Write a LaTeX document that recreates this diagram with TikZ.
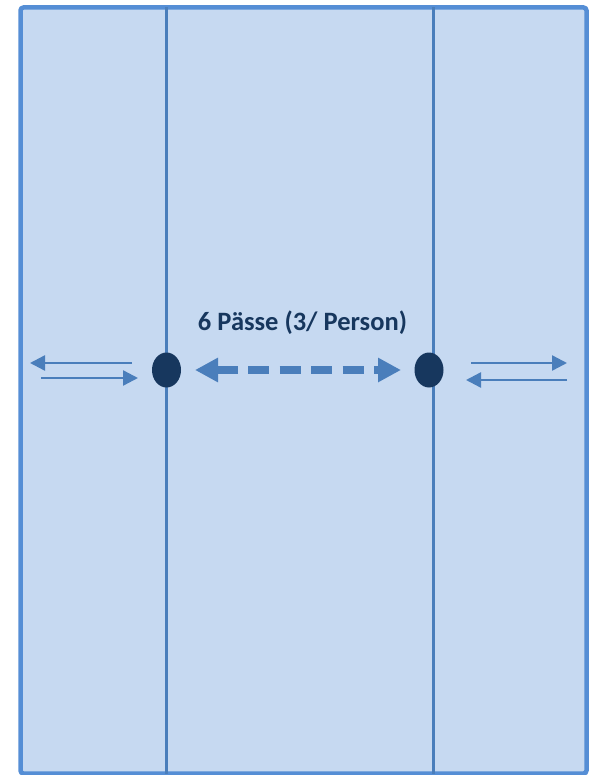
\documentclass[tikz,border=0pt]{standalone}
\usepackage{fontspec}
\setmainfont{Carlito}
\usetikzlibrary{arrows.meta,shapes.geometric}
\definecolor{fillblue}{HTML}{C6D9F1}
\definecolor{borderblue}{HTML}{558ED5}
\definecolor{lineblue}{HTML}{4A7EBB}
\definecolor{navy}{HTML}{17375E}
\tikzset{
  outerbox/.style={draw=borderblue, line width=4.5pt, fill=fillblue, rounded corners=3pt},
  divider/.style={draw=lineblue, line width=3pt},
  player/.style={ellipse, fill=navy, minimum width=29pt, minimum height=35pt, inner sep=0pt},
  thinarrow/.style={draw=lineblue, line width=2.4pt, -{Triangle[length=15pt,width=15pt]}},
  passarrow/.style={draw=lineblue, line width=7.5pt, dash pattern=on 21pt off 10.5pt,
     {Triangle[length=23pt,width=23pt]}-{Triangle[length=23pt,width=23pt]}},
  label/.style={font=\bfseries\fontsize{26.5}{30}\selectfont, text=navy}
}
\begin{document}
\begin{tikzpicture}[x=1pt,y=-1pt]
\useasboundingbox (0,0) rectangle (592,775);
\draw[outerbox] (20.5,7.5) rectangle (586.5,773.5);
\coordinate (l1) at (166,7.5); \coordinate (l2) at (166,773.5);
\coordinate (r1) at (433,7.5); \coordinate (r2) at (433,773.5);
\draw[divider] (l1) -- (l2);
\draw[divider] (r1) -- (r2);
\node[player] (pa) at (166.5,370) {};
\node[player] (pb) at (429,370) {};
\node[label] (txt) at (302.5,323) {6 Pässe (3/ Person)};
\coordinate (da) at (195,370); \coordinate (db) at (401,370);
\draw[passarrow] (da) -- (db);
\coordinate (a1s) at (132,363); \coordinate (a1e) at (30,363);
\coordinate (a2s) at (41,378); \coordinate (a2e) at (138,378);
\coordinate (a3s) at (471,363); \coordinate (a3e) at (567,363);
\coordinate (a4s) at (567,380); \coordinate (a4e) at (466,380);
\draw[thinarrow] (a1s) -- (a1e);
\draw[thinarrow] (a2s) -- (a2e);
\draw[thinarrow] (a3s) -- (a3e);
\draw[thinarrow] (a4s) -- (a4e);
\end{tikzpicture}
\end{document}
